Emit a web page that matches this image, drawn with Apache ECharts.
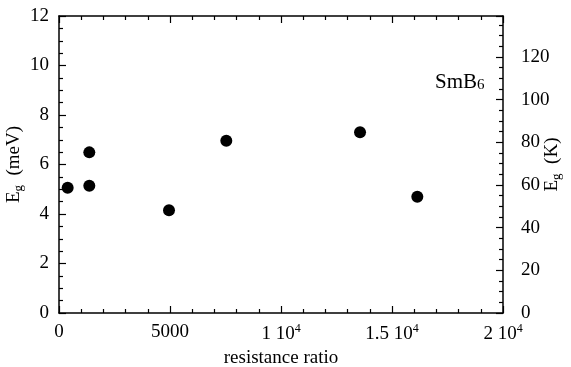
<!DOCTYPE html>
<html>
<head>
<meta charset="utf-8">
<script src="https://cdn.jsdelivr.net/npm/echarts@6/dist/echarts.min.js"></script>
<style>html,body{margin:0;padding:0;background:#fff}#c{width:571px;height:367px}</style>
</head>
<body>
<div id="c"></div>
<script>
// Data
const resistanceRatio = [390, 1365, 1365, 4955, 7536, 13560, 16140];
const gapMeV = [5.06, 5.14, 6.49, 4.15, 6.96, 7.30, 4.70];
const xTickLabels = {0: '0', 5000: '5000', 10000: '1 10{sup|4}', 15000: '1.5 10{sup|4}', 20000: '2 10{sup|4}'};
const meVtoK = 11.6045;

const FONT = '"Liberation Serif", "DejaVu Serif", serif';
const chart = echarts.init(document.getElementById('c'));
const axisLine = {show: true, onZero: false, lineStyle: {color: '#000', width: 1.5}};
const tickStyle = {color: '#000', width: 1.2};

chart.setOption({
  animation: false,
  backgroundColor: '#fff',
  grid: {left: 59, right: 68, top: 16, bottom: 54, containLabel: false, outerBoundsMode: 'none'},
  xAxis: [{
    type: 'value', position: 'bottom', min: 0, max: 20000, interval: 5000,
    axisLine: axisLine,
    axisTick: {show: true, inside: true, length: 7, lineStyle: tickStyle},
    minorTick: {show: true, splitNumber: 5, length: 4, lineStyle: tickStyle},
    splitLine: {show: false},
    axisLabel: {
      margin: 10, color: '#000', fontFamily: FONT, fontSize: 19,
      formatter: v => xTickLabels[v] !== undefined ? xTickLabels[v] : '',
      rich: {sup: {fontSize: 12, fontFamily: FONT, color: '#000', verticalAlign: 'top', lineHeight: 22}}
    },
    name: 'resistance ratio', nameLocation: 'middle', nameGap: 36, nameMoveOverlap: false,
    nameTextStyle: {color: '#000', fontFamily: FONT, fontSize: 19}
  }, {
    type: 'value', position: 'top', min: 0, max: 20000, interval: 5000,
    axisLine: axisLine,
    axisTick: {show: true, inside: true, length: 7, lineStyle: tickStyle},
    minorTick: {show: true, splitNumber: 5, length: 4, lineStyle: tickStyle},
    splitLine: {show: false},
    axisLabel: {show: false}
  }],
  yAxis: [{
    type: 'value', position: 'left', min: 0, max: 12, interval: 2,
    axisLine: axisLine,
    axisTick: {show: true, inside: true, length: 7, lineStyle: tickStyle},
    minorTick: {show: true, splitNumber: 4, length: 4, lineStyle: tickStyle},
    splitLine: {show: false},
    axisLabel: {margin: 10, color: '#000', fontFamily: FONT, fontSize: 19},
    name: 'E{sub|g}  (meV)', nameLocation: 'middle', nameGap: 34, nameRotate: 90, nameMoveOverlap: false,
    nameTextStyle: {
      color: '#000', fontFamily: FONT, fontSize: 19, lineHeight: 22,
      rich: {sub: {fontSize: 13, fontFamily: FONT, color: '#000', verticalAlign: 'bottom', lineHeight: 12}}
    }
  }, {
    type: 'value', position: 'right', min: 0, max: 12 * meVtoK, interval: 20,
    axisLine: axisLine,
    axisTick: {show: true, inside: true, length: 7, lineStyle: tickStyle},
    minorTick: {show: true, splitNumber: 4, length: 4, lineStyle: tickStyle},
    splitLine: {show: false},
    axisLabel: {margin: 18, color: '#000', fontFamily: FONT, fontSize: 19, showMaxLabel: false},
    name: 'E{sub|g}  (K)', nameLocation: 'middle', nameGap: 38, nameRotate: 90, nameMoveOverlap: false,
    nameTextStyle: {
      color: '#000', fontFamily: FONT, fontSize: 19, lineHeight: 22,
      rich: {sub: {fontSize: 13, fontFamily: FONT, color: '#000', verticalAlign: 'bottom', lineHeight: 12}}
    }
  }],
  graphic: [{
    type: 'text', left: 435, top: 72,
    style: {
      text: 'SmB{sub|6}', fill: '#000', font: '21px ' + FONT,
      rich: {sub: {fontSize: 15, fontFamily: FONT, fill: '#000', verticalAlign: 'bottom', lineHeight: 14}}
    }
  }],
  series: [{
    type: 'scatter', xAxisIndex: 0, yAxisIndex: 0,
    symbol: 'circle', symbolSize: 12,
    itemStyle: {color: '#000', opacity: 1},
    data: resistanceRatio.map((x, i) => [x, gapMeV[i]])
  }]
});
</script>
</body>
</html>
